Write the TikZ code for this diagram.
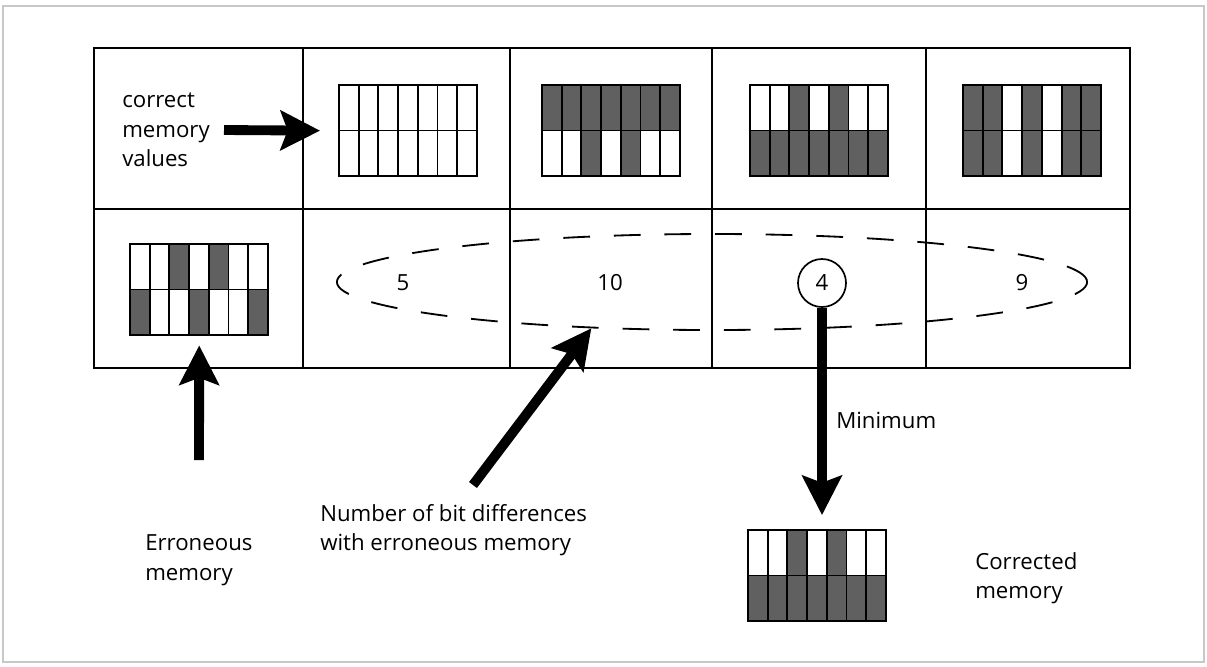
\documentclass[tikz,border=0pt]{standalone}
\usepackage{fontspec}
\setmainfont{Open Sans}
\usetikzlibrary{arrows.meta,shapes.geometric}

% memory word: name, x, y (top left), top bits, bottom bits
\newcommand{\memgrid}[5]{%
  \node[gridbox, anchor=north west] (#1) at (#2,#3) {};
  \foreach \b [count=\i from 0] in {#4} {\ifnum\b=1 \fill[cell_color] (#2+\i*19.7,#3) rectangle ++(19.7,45.5);\fi}
  \foreach \b [count=\i from 0] in {#5} {\ifnum\b=1 \fill[cell_color] (#2+\i*19.7,#3+45.5) rectangle ++(19.7,45.5);\fi}
  \foreach \i in {1,...,6} \draw[gridline] (#2+\i*19.7,#3) -- ++(0,91);
  \draw[gridline] (#2,#3+45.5) -- ++(137.9,0);
  \draw[gridline] (#2,#3) rectangle ++(137.9,91);
}

\begin{document}
\begin{tikzpicture}[x=0.025cm, y=-0.025cm]
            \definecolor{cell_color}{RGB}{96,96,96}
            \definecolor{frame_color}{RGB}{200,200,200}
            \tikzstyle{every node} = [font=\fontsize{15.8}{21}\selectfont, text=black]
            \tikzstyle{gridbox} = [draw=none, inner sep=0, minimum width=3.4475cm, minimum height=2.275cm]
            \tikzstyle{gridline} = [line width=1.4pt, black]
            \tikzstyle{table} = [line width=1.5pt, black]
            \tikzstyle{bigarrow} = [line width=7pt, black, -{Stealth[length=28pt, width=28pt, inset=5pt]}]
            \tikzstyle{ann} = [align=left, anchor=west, inner sep=0]
            \useasboundingbox (0,0) rectangle (1207,666);
            \draw[frame_color, line width=1.2pt] (3,6) rectangle (1204,662);
            % table
            \draw[table] (94,48) rectangle (1130,368);
            \draw[table] (94,209) -- (1130,209);
            \foreach \x in {303,510,712,926} \draw[table] (\x,48) -- (\x,368);
            % memory words
            \memgrid{g1}{339}{85}{0,0,0,0,0,0,0}{0,0,0,0,0,0,0}
            \memgrid{g2}{542}{85}{1,1,1,1,1,1,1}{0,0,1,0,1,0,0}
            \memgrid{g3}{750}{85}{0,0,1,0,1,0,0}{1,1,1,1,1,1,1}
            \memgrid{g4}{963}{85}{1,1,0,1,0,1,1}{1,1,0,1,0,1,1}
            \memgrid{ge}{130}{244}{0,0,1,0,1,0,0}{1,0,0,1,0,0,1}
            \memgrid{gc}{748}{530}{0,0,1,0,1,0,0}{1,1,1,1,1,1,1}
            % distances
            \node[draw, dashed, dash pattern=on 19pt off 17pt, line width=1.3pt, ellipse, inner sep=0, minimum width=18.75cm, minimum height=2.4cm] (diffs) at (712,282) {};
            \node (d1) at (403,283) {5};
            \node (d2) at (610,283) {10};
            \node[draw, circle, line width=1.2pt, fill=white, inner sep=0, minimum size=1.2cm] (min) at (822,283) {4};
            \node (d4) at (1022,283) {9};
            % labels
            \node[ann] (cmv) at (122,130) {correct\\memory\\values};
            \node[ann] (err) at (145,560) {Erroneous\\memory};
            \node[ann] (nbd) at (320,530) {Number of bit differences\\with erroneous memory};
            \node[ann] (cor) at (975,578) {Corrected\\memory};
            \node[ann] (mlab) at (836,420) {Minimum};
            % arrows
            \coordinate (t1) at (224,130);
            \coordinate (t2) at (199,460);
            \coordinate (t3) at (473,485);
            \draw[bigarrow, shorten >=13.5pt] (t1) -- (g1.west);
            \draw[bigarrow, shorten >=7pt] (t2) -- (ge.south);
            \draw[bigarrow] (t3) -- (diffs.201);
            \draw[bigarrow, shorten >=10.6pt] (min.south) -- (min.south |- gc.north);
        \end{tikzpicture}
\end{document}
